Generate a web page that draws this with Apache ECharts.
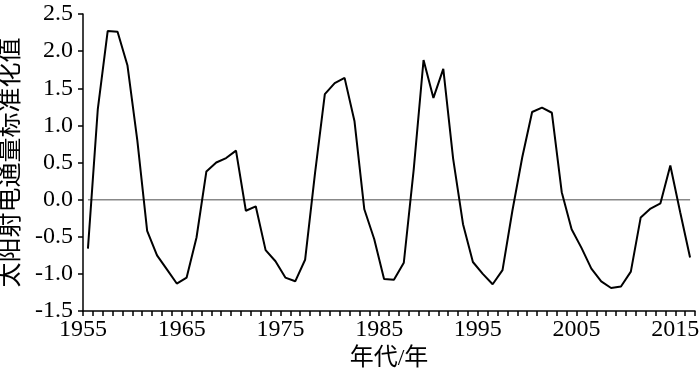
<!DOCTYPE html>
<html>
<head>
<meta charset="utf-8">
<script src="https://cdn.jsdelivr.net/npm/echarts@6/dist/echarts.min.js"></script>
<style>
	html, body { margin: 0; padding: 0; background: #fff; }
	#chart { width: 700px; height: 371px; }
</style>
</head>
<body>
<div id="chart"></div>
<script>
// 年份
const years = [
	1955, 1956, 1957, 1958, 1959, 1960, 1961, 1962, 1963, 1964,
	1965, 1966, 1967, 1968, 1969, 1970, 1971, 1972, 1973, 1974,
	1975, 1976, 1977, 1978, 1979, 1980, 1981, 1982, 1983, 1984,
	1985, 1986, 1987, 1988, 1989, 1990, 1991, 1992, 1993, 1994,
	1995, 1996, 1997, 1998, 1999, 2000, 2001, 2002, 2003, 2004,
	2005, 2006, 2007, 2008, 2009, 2010, 2011, 2012, 2013, 2014,
	2015, 2016
];
// 太阳射电通量标准化值
const fluxValues = [
	-0.66, 1.22, 2.27, 2.26, 1.81, 0.80, -0.42, -0.75, -0.94, -1.13,
	-1.05, -0.51, 0.38, 0.50, 0.56, 0.66, -0.15, -0.09, -0.68, -0.83,
	-1.05, -1.10, -0.81, 0.35, 1.42, 1.57, 1.64, 1.06, -0.13, -0.53,
	-1.07, -1.08, -0.85, 0.40, 1.88, 1.37, 1.76, 0.55, -0.33, -0.84,
	-1.00, -1.14, -0.95, -0.15, 0.57, 1.18, 1.24, 1.17, 0.10, -0.40,
	-0.65, -0.93, -1.10, -1.19, -1.17, -0.97, -0.24, -0.12, -0.05, 0.46,
	-0.17, -0.78
];
// 坐标轴范围
const xMin = 1955, xMax = 2017, xLabelStep = 10;
const yMin = -1.5, yMax = 2.5, yStep = 0.5;

const fontFamily = "'Liberation Serif', 'Noto Sans CJK SC', serif";

let chart = echarts.init(document.getElementById("chart"));

// 每年数据画在年份中间
const lineData = years.map((y, i) => [y + 0.5, fluxValues[i]]);
const zeroData = years.map((y) => [y + 0.5, 0]);

const option = {
	animation: false,
	grid: {
		left: 83,
		right: 5,
		top: 14,
		bottom: 60,
		containLabel: false,
		outerBoundsMode: "none",
	},
	xAxis: {
		type: "value",
		min: xMin,
		max: xMax,
		interval: 1,
		name: "年代/年",
		nameLocation: "middle",
		nameGap: 30,
		nameTextStyle: { color: "#000", fontSize: 24, fontFamily: fontFamily },
		axisLine: { onZero: false, lineStyle: { color: "#000", width: 1.5 } },
		axisTick: { show: true, inside: false, length: 5, lineStyle: { color: "#000", width: 1.5 } },
		axisLabel: {
			color: "#000",
			fontSize: 24,
			fontFamily: fontFamily,
			margin: 7,
			formatter: (v) => ((v - xMin) % xLabelStep === 0 ? String(v) : ""),
		},
		splitLine: { show: false },
	},
	yAxis: {
		type: "value",
		min: yMin,
		max: yMax,
		interval: yStep,
		name: "太阳射电通量标准化值",
		nameLocation: "middle",
		nameGap: 58,
		nameTextStyle: { color: "#000", fontSize: 25, fontFamily: fontFamily },
		axisLine: { show: true, lineStyle: { color: "#000", width: 1.5 } },
		axisTick: { show: true, length: 5, lineStyle: { color: "#000", width: 1.5 } },
		axisLabel: {
			color: "#000",
			fontSize: 24,
			fontFamily: fontFamily,
			margin: 10,
			formatter: (v) => v.toFixed(1),
		},
		splitLine: { show: false },
	},
	series: [
		{
			// 0 值参考线
			type: "line",
			data: zeroData,
			symbol: "none",
			lineStyle: { color: "#888", width: 1.5 },
			z: 1,
		},
		{
			type: "line",
			data: lineData,
			symbol: "none",
			lineStyle: { color: "#000", width: 2 },
			z: 2,
		},
	],
};
chart.setOption(option);
</script>
</body>
</html>
